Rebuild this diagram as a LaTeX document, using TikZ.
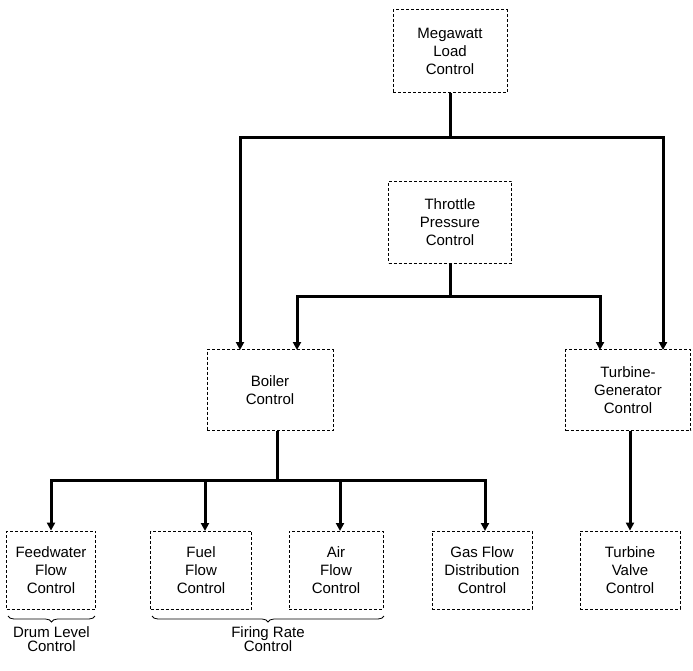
\documentclass[tikz,border=0pt]{standalone}
\usepackage{fontspec}
\setmainfont{Liberation Sans}
\usetikzlibrary{decorations.pathreplacing,arrows.meta}
\begin{document}
\begin{tikzpicture}[x=1pt,y=-1pt,
 box/.style={draw,densely dashed,line width=0.8pt,align=center,font=\fontsize{15}{18}\selectfont,inner sep=0pt},
 conn/.style={line width=3pt,-{Triangle[length=8pt,width=8pt]}},
 ln/.style={line width=3pt},
 lab/.style={align=center,font=\fontsize{15}{14}\selectfont}]
\useasboundingbox (0,0) rectangle (693,670);
\node[box,minimum width=114,minimum height=83] (mw) at (450,51) {Megawatt\\Load\\Control};
\node[box,minimum width=123,minimum height=82] (tp) at (450,222) {Throttle\\Pressure\\Control};
\node[box,minimum width=126,minimum height=81] (bc) at (270,390) {Boiler\\Control};
\node[box,minimum width=125,minimum height=81] (tg) at (628,390) {Turbine-\\Generator\\Control};
\node[box,minimum width=89,minimum height=78] (fw) at (51,570) {Feedwater\\Flow\\Control};
\node[box,minimum width=101,minimum height=78] (ff) at (201,570) {Fuel\\Flow\\Control};
\node[box,minimum width=94,minimum height=78] (af) at (336,570) {Air\\Flow\\Control};
\node[box,minimum width=100,minimum height=78] (gf) at (482,570) {Gas Flow\\Distribution\\Control};
\node[box,minimum width=100,minimum height=78] (tv) at (630,570) {Turbine\\Valve\\Control};
\coordinate (j1) at (450,137);
\coordinate (j2) at (450,296);
\coordinate (j3) at (277,480);
\draw[ln] (mw.south) -- (j1);
\draw[conn] (j1) -| (240,350);
\draw[conn] (j1) -| (663,350);
\draw[ln] (tp.south) -- (j2);
\draw[conn] (j2) -| (297,350);
\draw[conn] (j2) -| (600,350);
\draw[ln] (bc.south -| j3) -- (j3);
\draw[conn] (j3) -| (fw.north);
\draw[conn] (j3) -| (205,531);
\draw[conn] (j3) -| (340,531);
\draw[conn] (j3) -| (485,531);
\draw[conn] (tv.north |- tg.south) -- (tv.north);
\draw[decorate,decoration={brace,mirror,amplitude=6pt},line width=0.8pt] (8,616) -- (95,616) node[lab,midway,below=7pt] (dl) {Drum Level\\Control};
\draw[decorate,decoration={brace,mirror,amplitude=6pt},line width=0.8pt] (152,616) -- (384,616) node[lab,midway,below=7pt] (fr) {Firing Rate\\Control};
\end{tikzpicture}
\end{document}
